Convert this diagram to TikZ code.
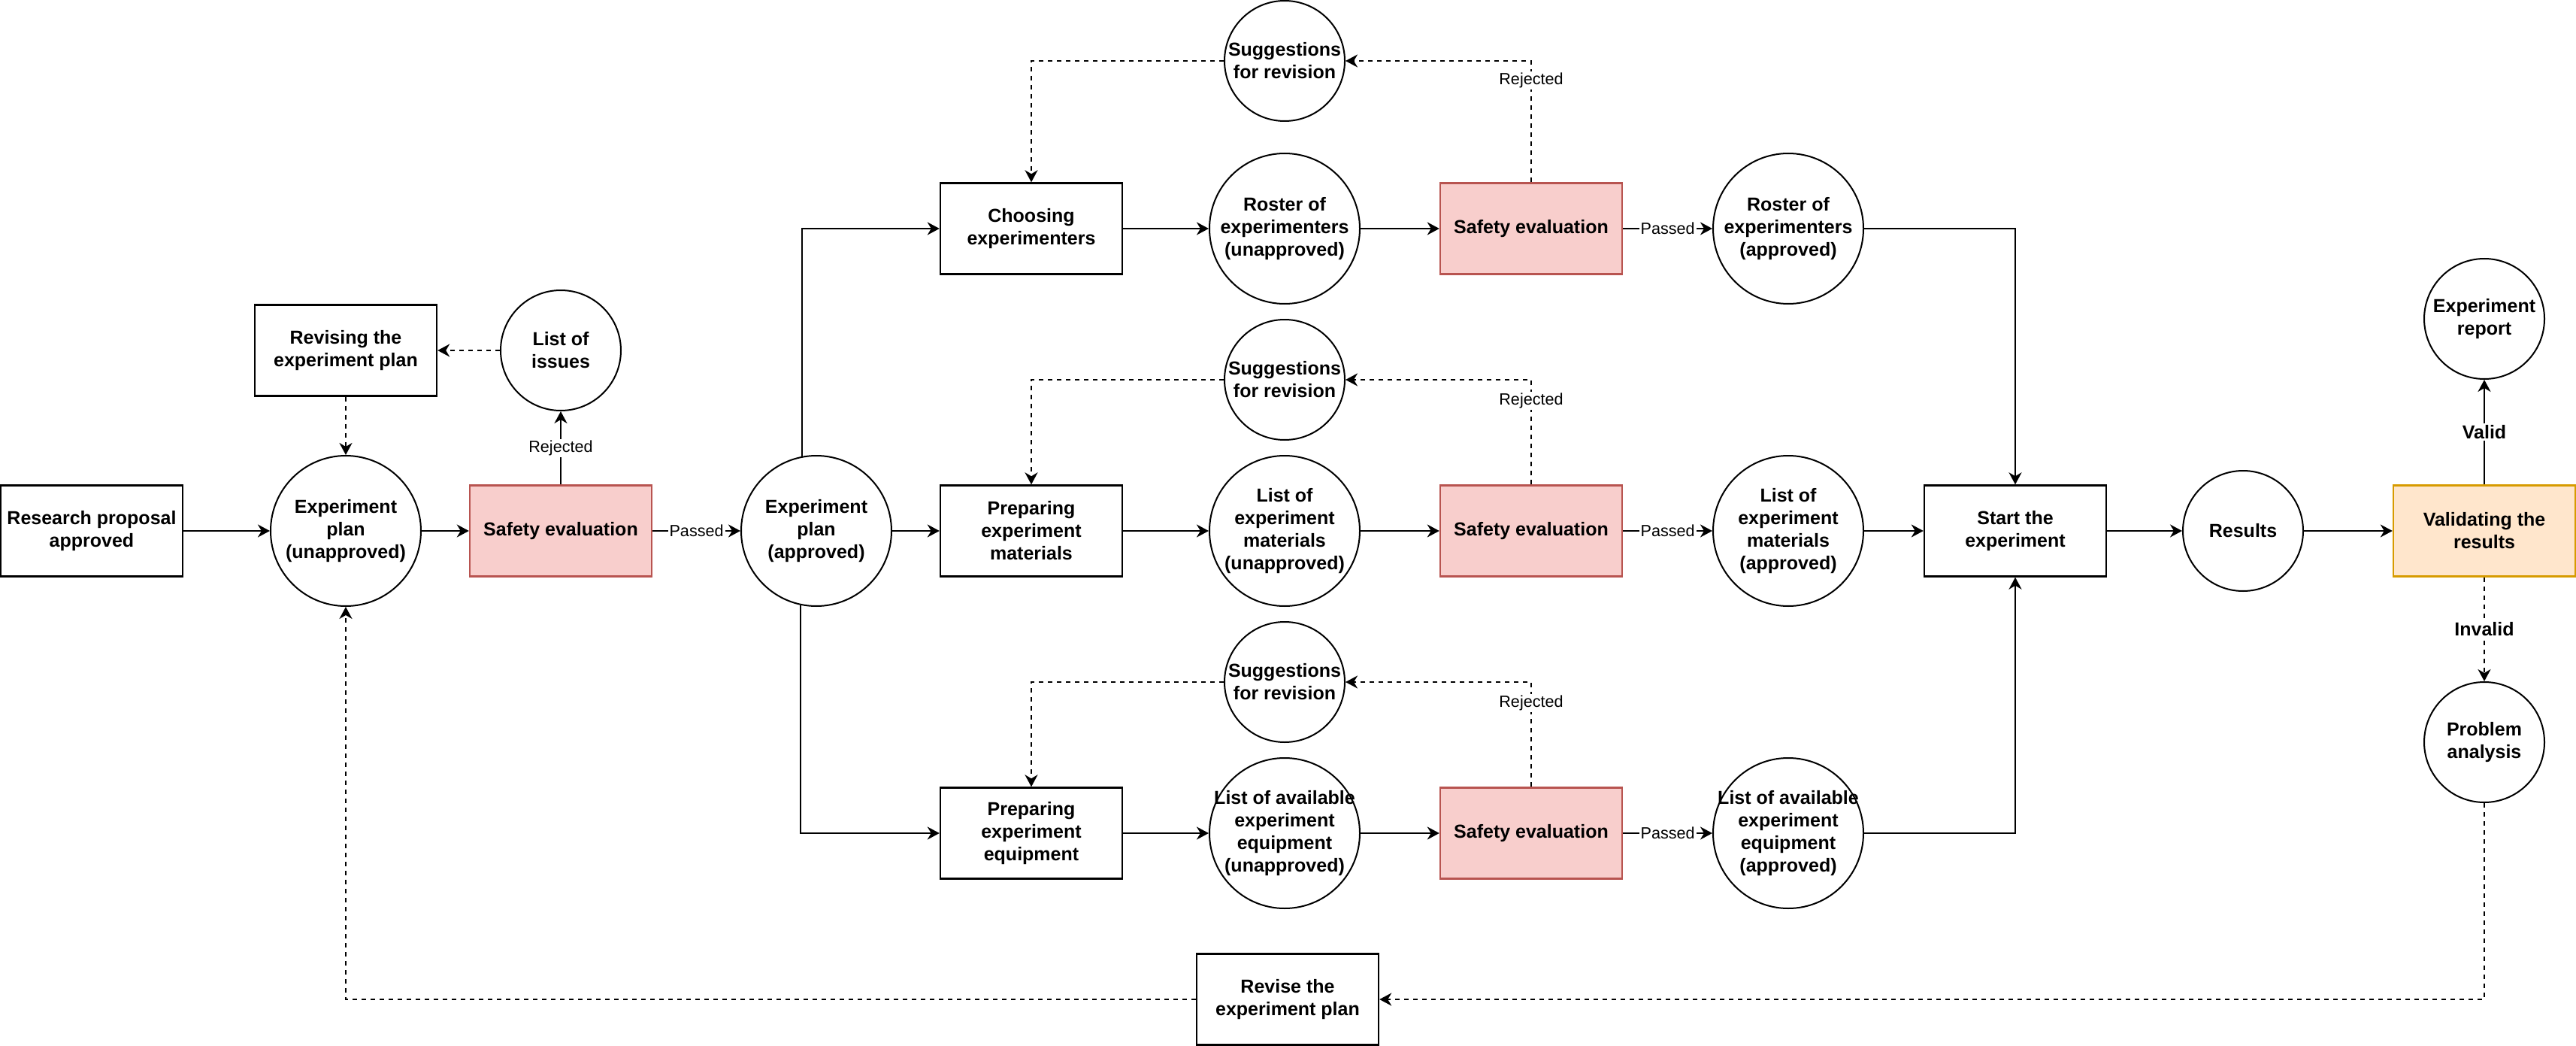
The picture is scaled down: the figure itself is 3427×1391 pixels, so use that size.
\documentclass[tikz,border=0pt]{standalone}
\usepackage{fontspec}
\setmainfont{Liberation Sans}
\usetikzlibrary{arrows.meta}
\definecolor{redfill}{HTML}{F8CECC}
\definecolor{redline}{HTML}{B85450}
\definecolor{orgfill}{HTML}{FFE6CC}
\definecolor{orgline}{HTML}{D79B00}
\newcommand\dgnodefont{\fontsize{12.5}{15}\selectfont\bfseries}
\newcommand\dglblfont{\fontsize{10.8}{13}\selectfont}
\tikzset{
 box/.style={draw, line width=1.2pt, minimum width=121pt, minimum height=60.5pt, inner sep=0pt, align=center, font=\dgnodefont, fill=white},
 safe/.style={box, fill=redfill, draw=redline},
 valbox/.style={box, fill=orgfill, draw=orgline},
 circ/.style={draw, circle, line width=1pt, minimum size=100pt, inner sep=0pt},
 scirc/.style={circ, minimum size=80pt},
 txt/.style={align=center, font=\dgnodefont, inner sep=0pt},
 arr/.style={line width=1.1pt, -{Stealth[length=8pt,width=8.5pt,inset=2.5pt]}},
 dsh/.style={dash pattern=on 3pt off 3pt},
 lbl/.style={font=\dglblfont, fill=white, inner sep=1pt},
 blbl/.style={font=\dgnodefont, fill=white, inner sep=1pt},
}
\newcommand\dgcirc[4][circ]{\node[#1] (#2) at (#3) {}; \node[txt] (#2-t) at (#2) {#4};}
\begin{document}
\begin{tikzpicture}[x=0.5pt,y=-0.5pt]
\useasboundingbox (0,0) rectangle (3427,1391);
% left part
\node[box] (research) at (122,706) {Research proposal\\approved};
\dgcirc{expU}{460,706}{Experiment\\plan\\(unapproved)}
\node[safe] (saf1) at (746,706) {Safety evaluation};
\dgcirc[scirc]{issues}{746,466}{List of\\issues}
\node[box] (revising) at (460,466) {Revising the\\experiment plan};
\dgcirc{expA}{1086,706}{Experiment\\plan\\(approved)}
% top row
\node[box] (choose) at (1372,304) {Choosing\\experimenters};
\dgcirc{rosterU}{1709,304}{Roster of\\experimenters\\(unapproved)}
\node[safe] (saf2) at (2037,304) {Safety evaluation};
\dgcirc{rosterA}{2379,304}{Roster of\\experimenters\\(approved)}
\dgcirc[scirc]{sug1}{1709,81}{Suggestions\\for revision}
% middle row
\node[box] (prepM) at (1372,706) {Preparing\\experiment\\materials};
\dgcirc{listMU}{1709,706}{List of\\experiment\\materials\\(unapproved)}
\node[safe] (saf3) at (2037,706) {Safety evaluation};
\dgcirc{listMA}{2379,706}{List of\\experiment\\materials\\(approved)}
\dgcirc[scirc]{sug2}{1709,505}{Suggestions\\for revision}
% bottom row
\node[box] (prepE) at (1372,1108) {Preparing\\experiment\\equipment};
\dgcirc{listEU}{1709,1108}{List of available\\experiment\\equipment\\(unapproved)}
\node[safe] (saf4) at (2037,1108) {Safety evaluation};
\dgcirc{listEA}{2379,1108}{List of available\\experiment\\equipment\\(approved)}
\dgcirc[scirc]{sug3}{1709,907}{Suggestions\\for revision}
% right part
\node[box] (start) at (2681,706) {Start the\\experiment};
\dgcirc[scirc]{results}{2984,706}{Results}
\node[valbox] (valid) at (3305,706) {Validating the\\results};
\dgcirc[scirc]{report}{3305,424}{Experiment\\report}
\dgcirc[scirc]{prob}{3305,987}{Problem\\analysis}
\node[box] (revise) at (1713,1329) {Revise the\\experiment plan};
% connectors left
\draw[arr] (research) -- (expU);
\draw[arr] (expU) -- (saf1);
\draw[arr] (saf1) -- node[lbl]{Passed} (expA);
\draw[arr] (saf1) -- node[lbl]{Rejected} (issues);
\draw[arr,dsh] (issues) -- (revising);
\draw[arr,dsh] (revising) -- (expU);
\draw[arr] (expA.101.5) |- (choose.west);
\draw[arr] (expA) -- (prepM);
\draw[arr] (expA.258.5) |- (prepE.west);
% top row
\draw[arr] (choose) -- (rosterU);
\draw[arr] (rosterU) -- (saf2);
\draw[arr] (saf2) -- node[lbl]{Passed} (rosterA);
\draw[arr] (rosterA.east) -| (start.north);
\draw[arr,dsh] (saf2.north) |- node[lbl,pos=0.42]{Rejected} (sug1.east);
\draw[arr,dsh] (sug1.west) -| (choose.north);
% middle row
\draw[arr] (prepM) -- (listMU);
\draw[arr] (listMU) -- (saf3);
\draw[arr] (saf3) -- node[lbl]{Passed} (listMA);
\draw[arr] (listMA) -- (start);
\draw[arr,dsh] (saf3.north) |- node[lbl,pos=0.40]{Rejected} (sug2.east);
\draw[arr,dsh] (sug2.west) -| (prepM.north);
% bottom row
\draw[arr] (prepE) -- (listEU);
\draw[arr] (listEU) -- (saf4);
\draw[arr] (saf4) -- node[lbl]{Passed} (listEA);
\draw[arr] (listEA.east) -| (start.south);
\draw[arr,dsh] (saf4.north) |- node[lbl,pos=0.40]{Rejected} (sug3.east);
\draw[arr,dsh] (sug3.west) -| (prepE.north);
% right part
\draw[arr] (start) -- (results);
\draw[arr] (results) -- (valid);
\draw[arr] (valid) -- node[blbl]{Valid} (report);
\draw[arr,dsh] (valid) -- node[blbl]{Invalid} (prob);
\draw[arr,dsh] (prob.south) |- (revise.east);
\draw[arr,dsh] (revise.west) -| (expU.south);
\end{tikzpicture}
\end{document}
